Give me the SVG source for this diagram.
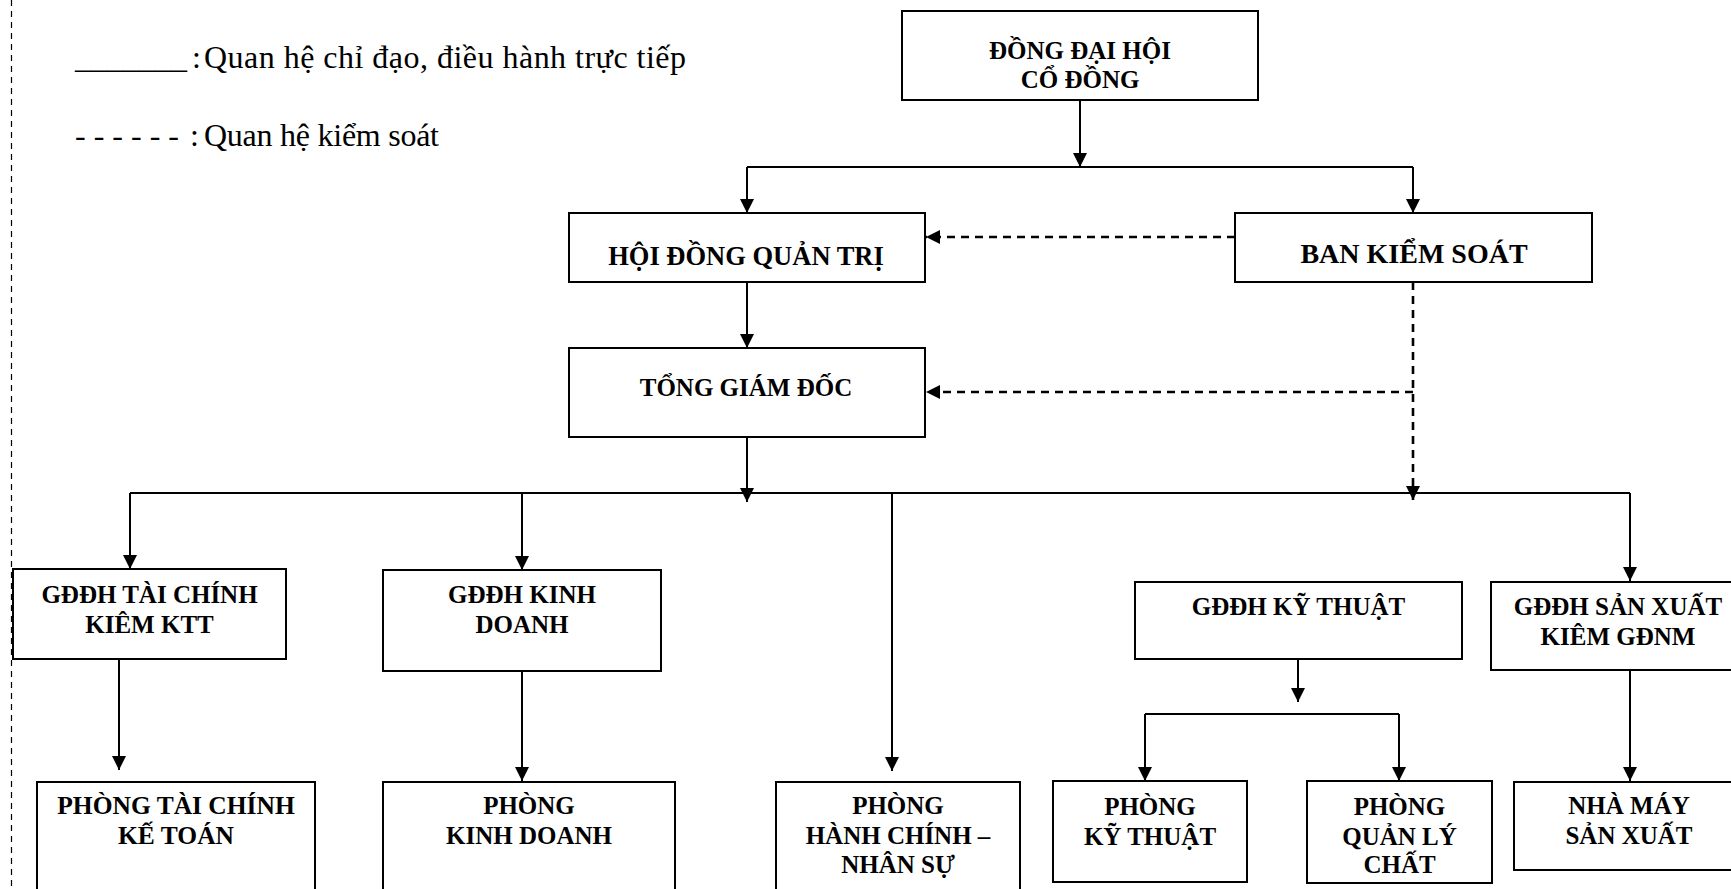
<svg xmlns="http://www.w3.org/2000/svg" width="1731" height="889" viewBox="0 0 1731 889">
<style>
.box{fill:#fff;stroke:#000;stroke-width:2}
.t{font-family:"Liberation Serif","Times New Roman",serif;font-weight:bold;font-size:25px;fill:#000;text-anchor:middle}
.big{font-size:28px}
.leg{font-family:"Liberation Serif","Times New Roman",serif;font-size:32px;fill:#000}
.sol{fill:none;stroke:#000;stroke-width:2}
.das{fill:none;stroke:#000;stroke-width:2.6;stroke-dasharray:8 6}
.brd{fill:none;stroke:#000;stroke-width:1.2;stroke-dasharray:6 5}
</style>
<defs>
<marker id="ah" markerUnits="userSpaceOnUse" markerWidth="15" markerHeight="15" refX="14" refY="7" orient="auto">
<path d="M0,0 L14,7 L0,14 z" fill="#000"/>
</marker>
</defs>
<rect width="1731" height="889" fill="#fff"/>
<path class="brd" d="M11.5,0 V889"/>
<g id="legend">
<text class="leg" x="75" y="68">_______</text>
<text class="leg" x="192" y="68">:</text>
<text class="leg" x="204" y="68" textLength="482">Quan hệ chỉ đạo, điều hành trực tiếp</text>
<text class="leg" x="75" y="146">- - - - - -</text>
<text class="leg" x="190" y="146">:</text>
<text class="leg" x="204" y="146" textLength="235">Quan hệ kiểm soát</text>
</g>
<g id="connectors">
<path class="sol" d="M1080,100 V167" marker-end="url(#ah)"/>
<path class="sol" d="M747,167 H1413"/>
<path class="sol" d="M747,167 V213" marker-end="url(#ah)"/>
<path class="sol" d="M1413,167 V213" marker-end="url(#ah)"/>
<path class="sol" d="M747,282 V348" marker-end="url(#ah)"/>
<path class="sol" d="M747,437 V502" marker-end="url(#ah)"/>
<path class="sol" d="M130,493 H1630"/>
<path class="sol" d="M130,493 V569" marker-end="url(#ah)"/>
<path class="sol" d="M522,493 V570" marker-end="url(#ah)"/>
<path class="sol" d="M892,493 V771" marker-end="url(#ah)"/>
<path class="sol" d="M1630,493 V581" marker-end="url(#ah)"/>
<path class="sol" d="M119,659 V770" marker-end="url(#ah)"/>
<path class="sol" d="M522,671 V781" marker-end="url(#ah)"/>
<path class="sol" d="M1298,659 V702" marker-end="url(#ah)"/>
<path class="sol" d="M1145,714 H1399"/>
<path class="sol" d="M1145,714 V781" marker-end="url(#ah)"/>
<path class="sol" d="M1399,714 V781" marker-end="url(#ah)"/>
<path class="sol" d="M1630,670 V781" marker-end="url(#ah)"/>
<path class="das" d="M1235,237 H926" marker-end="url(#ah)"/>
<path class="das" d="M1413,282 V500" marker-end="url(#ah)"/>
<path class="das" d="M1413,392 H926" marker-end="url(#ah)"/>
</g>
<g id="dhdcd"><rect class="box" x="902" y="11" width="356" height="89"/>
<text class="t" x="1080" y="59" font-size="24">ĐỒNG ĐẠI HỘI</text><text class="t" x="1080" y="88" font-size="24">CỔ ĐỒNG</text></g>
<g id="hdqt"><rect class="box" x="569" y="213" width="356" height="69"/>
<text class="t" x="746" y="265" style="font-size:26.5px">HỘI ĐỒNG QUẢN TRỊ</text></g>
<g id="bks"><rect class="box" x="1235" y="213" width="357" height="69"/>
<text class="t big" x="1414" y="263">BAN KIỂM SOÁT</text></g>
<g id="tgd"><rect class="box" x="569" y="348" width="356" height="89"/>
<text class="t" x="746" y="396">TỔNG GIÁM ĐỐC</text></g>
<g id="gddh_tc"><rect class="box" x="13" y="569" width="273" height="90"/>
<text class="t" x="149.5" y="603">GĐĐH TÀI CHÍNH</text><text class="t" x="149.5" y="633">KIÊM KTT</text></g>
<g id="gddh_kd"><rect class="box" x="383" y="570" width="278" height="101"/>
<text class="t" x="522" y="603">GĐĐH KINH</text><text class="t" x="522" y="633">DOANH</text></g>
<g id="gddh_kt"><rect class="box" x="1135" y="582" width="327" height="77"/>
<text class="t" x="1298.5" y="615">GĐĐH KỸ THUẬT</text></g>
<g id="gddh_sx"><rect class="box" x="1491" y="582" width="254" height="88"/>
<text class="t" x="1618" y="615">GĐĐH SẢN XUẤT</text><text class="t" x="1618" y="645">KIÊM GĐNM</text></g>
<g id="p_tc"><rect class="box" x="37" y="782" width="278" height="120"/>
<text class="t" x="176" y="814" style="font-size:25.5px">PHÒNG TÀI CHÍNH</text><text class="t" x="176" y="844" style="font-size:25.5px">KẾ TOÁN</text></g>
<g id="p_kd"><rect class="box" x="383" y="782" width="292" height="120"/>
<text class="t" x="529" y="814">PHÒNG</text><text class="t" x="529" y="844">KINH DOANH</text></g>
<g id="p_hcns"><rect class="box" x="776" y="782" width="244" height="120"/>
<text class="t" x="898" y="814">PHÒNG</text><text class="t" x="898" y="844">HÀNH CHÍNH –</text><text class="t" x="898" y="873">NHÂN SỰ</text></g>
<g id="p_kt"><rect class="box" x="1053" y="781" width="194" height="101"/>
<text class="t" x="1150" y="815">PHÒNG</text><text class="t" x="1150" y="845">KỸ THUẬT</text></g>
<g id="p_qlc"><rect class="box" x="1307" y="781" width="185" height="102"/>
<text class="t" x="1399.5" y="815">PHÒNG</text><text class="t" x="1399.5" y="845">QUẢN LÝ</text><text class="t" x="1399.5" y="873">CHẤT</text></g>
<g id="nha_may"><rect class="box" x="1514" y="782" width="230" height="88"/>
<text class="t" x="1629" y="814">NHÀ MÁY</text><text class="t" x="1629" y="844">SẢN XUẤT</text></g>
</svg>
